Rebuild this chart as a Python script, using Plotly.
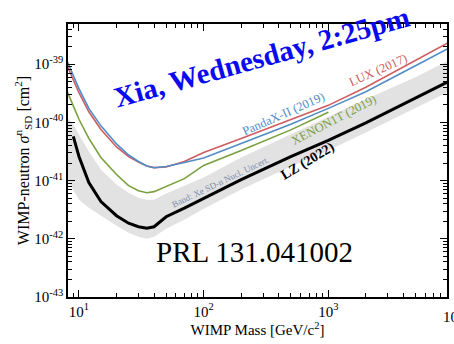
import plotly.graph_objects as go

# WIMP mass grid [GeV/c^2]
mass = [8, 9, 10, 12, 15, 20, 25, 30, 35, 40, 50, 70, 100, 200, 500, 1000, 2000, 5000, 9000]

# Cross-section limits [cm^2]
lux_2017 = [9.6e-40, 5.30e-40, 3.23e-40, 1.52e-40, 7.57e-41, 3.78e-41, 2.59e-41, 2.08e-41,
            1.78e-41, 1.67e-41, 1.71e-41, 2.13e-41, 3.04e-41, 5.30e-41, 1.10e-40, 1.96e-40,
            4.01e-40, 1.17e-39, 2.30e-39]
pandax_2019 = [1.15e-39, 6.46e-40, 3.79e-40, 1.74e-40, 8.71e-41, 4.26e-41, 2.75e-41, 2.13e-41,
               1.78e-41, 1.66e-41, 1.74e-41, 2.04e-41, 2.44e-41, 4.35e-41, 9.25e-41, 1.74e-40,
               3.36e-40, 9.37e-40, 1.82e-39]
mass_xenon = [8, 9, 10, 12, 15, 20, 25, 30, 35, 40, 50, 70, 100, 200, 500, 1000]
xenon1t_2019 = [3.49e-40, 1.96e-40, 1.13e-40, 5.30e-41, 2.49e-41, 1.27e-41, 8.2e-42, 6.7e-42,
                6.2e-42, 6.46e-42, 7.9e-42, 1.08e-41, 1.82e-41, 3.29e-41, 7.43e-41, 1.49e-40]
mass_lz = [9, 10, 12, 15, 20, 25, 30, 35, 40, 50, 70, 100, 200, 500, 1000, 2000, 5000, 9000]
lz_2022 = [5.74e-41, 2.59e-41, 9.25e-42, 4.35e-42, 2.49e-42, 1.85e-42, 1.61e-42, 1.52e-42,
           1.61e-42, 2.39e-42, 3.36e-42, 4.90e-42, 1.04e-41, 2.59e-41, 4.90e-41, 9.8e-41,
           2.64e-40, 4.90e-40]
band_upper = [1.22e-40, 9.25e-41, 6.21e-41, 3.16e-41, 1.55e-41, 8.53e-42, 6.2e-42, 5.09e-42,
              4.70e-42, 4.70e-42, 5.97e-42, 8.2e-42, 1.13e-41, 2.49e-41, 6.21e-41, 1.22e-40,
              2.49e-40, 5.97e-40, 1.13e-39]
band_lower = [1.04e-41, 7.0e-42, 4.70e-42, 3.42e-42, 2.49e-42, 1.67e-42, 1.27e-42, 1.08e-42,
              1.0e-42, 1.08e-42, 1.49e-42, 2.13e-42, 3.29e-42, 7.0e-42, 1.74e-41, 3.29e-41,
              6.73e-41, 1.74e-40, 3.29e-40]

# Tick values and labels
x_tickvals = [10, 100, 1000]
x_ticktext = ["10<sup>1</sup>", "10<sup>2</sup>", "10<sup>3</sup>"]
x_minorvals = [8, 9, 20, 30, 40, 50, 60, 70, 80, 90, 200, 300, 400, 500, 600, 700, 800, 900,
               2000, 3000, 4000, 5000, 6000, 7000, 8000]
y_tickvals = [1e-43, 1e-42, 1e-41, 1e-40, 1e-39]
y_ticktext = ["10<sup>-43</sup>", "10<sup>-42</sup>", "10<sup>-41</sup>", "10<sup>-40</sup>", "10<sup>-39</sup>"]
y_minorvals = [k * 10.0 ** e for e in (-43, -42, -41, -40, -39) for k in range(2, 10)]

SERIF = "Liberation Serif, Times New Roman, serif"

fig = go.Figure()
fig.add_trace(go.Scatter(x=mass, y=band_lower, mode="lines", line=dict(width=0, color="rgba(0,0,0,0)"),
                         showlegend=False, hoverinfo="skip"))
fig.add_trace(go.Scatter(x=mass, y=band_upper, mode="lines", line=dict(width=0, color="rgba(0,0,0,0)"),
                         fill="tonexty", fillcolor="rgb(226,226,226)", showlegend=False, hoverinfo="skip"))
fig.add_trace(go.Scatter(x=mass, y=lux_2017, mode="lines", line=dict(color="rgb(206,92,96)", width=1.6),
                         showlegend=False))
fig.add_trace(go.Scatter(x=mass, y=pandax_2019, mode="lines", line=dict(color="rgb(82,140,196)", width=1.6),
                         showlegend=False))
fig.add_trace(go.Scatter(x=mass_xenon, y=xenon1t_2019, mode="lines", line=dict(color="rgb(122,160,62)", width=1.6),
                         showlegend=False))
fig.add_trace(go.Scatter(x=mass_lz, y=lz_2022, mode="lines", line=dict(color="black", width=3),
                         showlegend=False))

axis_common = dict(
    type="log", showgrid=False, zeroline=False,
    showline=True, linecolor="black", linewidth=1.5, mirror="allticks",
    ticks="inside", ticklen=7, tickwidth=1, tickcolor="black",
    tickfont=dict(family=SERIF, size=15, color="black"),
)

fig.update_xaxes(range=[0.912, 3.952], tickmode="array", tickvals=x_tickvals, ticktext=x_ticktext,
                 minor=dict(ticks="inside", ticklen=4, tickwidth=1, tickcolor="black",
                            tickmode="array", tickvals=x_minorvals, showgrid=False),
                 title=dict(text="WIMP Mass [GeV/c<sup>2</sup>]", font=dict(family=SERIF, size=15, color="black"),
                            standoff=5),
                 **axis_common)
fig.update_yaxes(range=[-43, -38.31], tickmode="array", tickvals=y_tickvals, ticktext=y_ticktext,
                 minor=dict(ticks="inside", ticklen=4, tickwidth=1, tickcolor="black",
                            tickmode="array", tickvals=y_minorvals, showgrid=False),
                 title=dict(text="WIMP-neutron <i>σ</i><sup>n</sup><sub>SD</sub> [cm<sup>2</sup>]",
                            font=dict(family=SERIF, size=16, color="black"), standoff=0),
                 **axis_common)

annotations = [
    dict(text="<b>Xia, Wednesday, 2:25pm</b>", x=0.511, y=0.878, textangle=-15.6,
         font=dict(family=SERIF, size=29, color="#0a0af0")),
    dict(text="PRL 131.041002", x=0.493, y=0.165, textangle=0,
         font=dict(family=SERIF, size=29, color="black")),
    dict(text="LUX (2017)", x=0.819, y=0.832, textangle=-24,
         font=dict(family=SERIF, size=12.5, color="rgb(206,92,96)")),
    dict(text="PandaX-II (2019)", x=0.568, y=0.672, textangle=-24,
         font=dict(family=SERIF, size=12.5, color="rgb(82,140,196)")),
    dict(text="XENON1T (2019)", x=0.701, y=0.648, textangle=-27.6,
         font=dict(family=SERIF, size=12.5, color="rgb(122,160,62)")),
    dict(text="<b>LZ (2022)</b>", x=0.634, y=0.497, textangle=-31,
         font=dict(family=SERIF, size=14, color="black")),
    dict(text="Band: Xe SD-n Nucl. Uncert.", x=0.402, y=0.423, textangle=-25.6,
         font=dict(family=SERIF, size=9, color="rgb(120,140,172)")),
    dict(text="10<sup>4</sup>", x=1.018, y=-0.03, yanchor="top", textangle=0,
         font=dict(family=SERIF, size=15, color="black")),
]
for a in annotations:
    a.setdefault("yanchor", "middle")
    a.update(xref="paper", yref="paper", showarrow=False, xanchor="center")
    fig.add_annotation(**a)

fig.update_layout(
    width=454, height=344,
    margin=dict(l=68, r=5, t=24, b=47),
    paper_bgcolor="white", plot_bgcolor="white",
    showlegend=False,
)

fig.write_html("out.html")
